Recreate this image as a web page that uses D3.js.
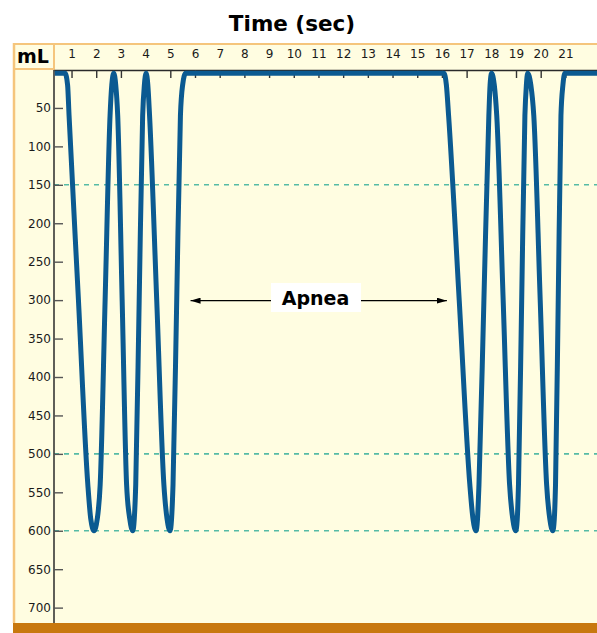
<!DOCTYPE html>
<html>
<head>
<meta charset="utf-8">
<script src="https://cdn.jsdelivr.net/npm/d3@7"></script>
<style>
  html, body { margin: 0; padding: 0; background: #ffffff; }
  svg { display: block; }
</style>
</head>
<body>
<svg id="chart" width="597" height="633"></svg>
<script>
// ---- data ----
const timeTicks = [1,2,3,4,5,6,7,8,9,10,11,12,13,14,15,16,17,18,19,20,21];
const volumeTicks = [50,100,150,200,250,300,350,400,450,500,550,600,650,700];
const referenceLines = [150, 500, 600];

// spirogram trace (time in s, volume in mL)
const timeSec = [
  0.29, 0.74, 0.84, 0.90, 1.28, 1.66, 1.78, 1.91,
  2.04, 2.16, 2.36, 2.56, 2.63, 2.71,
  2.79, 2.87, 3.05, 3.23, 3.36, 3.48,
  3.54, 3.60, 3.74, 3.88, 3.95, 4.02,
  4.09, 4.16, 4.45, 4.74, 4.87, 4.99,
  5.05, 5.11, 5.26, 5.41, 5.50, 5.62,
  16.08, 16.18, 16.27, 16.70, 17.13, 17.26, 17.38,
  17.44, 17.50, 17.70, 17.90, 17.95, 18.01,
  18.12, 18.22, 18.48, 18.74, 18.87, 18.99,
  19.05, 19.10, 19.23, 19.36, 19.42, 19.47,
  19.60, 19.72, 19.98, 20.24, 20.37, 20.49,
  20.55, 20.60, 20.71, 20.82, 20.90, 20.98, 22.28];
const volumeML = [
  5, 5, 20, 60, 300, 540, 585, 600,
  585, 540, 300, 60, 20, 5,
  20, 60, 300, 540, 585, 600,
  585, 540, 300, 60, 20, 5,
  20, 60, 300, 540, 585, 600,
  585, 540, 300, 60, 20, 5,
  5, 20, 60, 300, 540, 585, 600,
  585, 540, 300, 60, 20, 5,
  20, 60, 300, 540, 585, 600,
  585, 540, 300, 60, 20, 5,
  20, 60, 300, 540, 585, 600,
  585, 540, 300, 60, 20, 5, 5];

const apnea = { label: "Apnea", from: 5.82, to: 16.2, level: 300 };

// ---- layout ----
const W = 597, H = 633;
const plotL = 54, plotT = 70, plotR = 597, plotB = 623;
const orange = "#f5c57c", yellowBg = "#fffde1", band = "#c8780e";

const svg = d3.select("#chart");

const x = d3.scaleLinear().domain([0.29, 22.28]).range([plotL, plotR]);
const y = d3.scaleLinear().domain([0, 720]).range([69.5, plotB]);

// panel background
svg.append("rect").attr("x", 13).attr("y", 43).attr("width", W - 13).attr("height", H - 43)
  .attr("fill", yellowBg);
// bottom band
svg.append("rect").attr("x", 13).attr("y", plotB).attr("width", W - 13).attr("height", H - plotB)
  .attr("fill", band);
// borders
svg.append("line").attr("x1", 14).attr("x2", 14).attr("y1", 43).attr("y2", plotB)
  .attr("stroke", orange).attr("stroke-width", 2.5);
svg.append("line").attr("x1", 13).attr("x2", W).attr("y1", 44).attr("y2", 44)
  .attr("stroke", orange).attr("stroke-width", 2);
svg.append("line").attr("x1", plotL).attr("x2", plotL).attr("y1", 43).attr("y2", plotT)
  .attr("stroke", orange).attr("stroke-width", 2);
svg.append("line").attr("x1", 13).attr("x2", plotL).attr("y1", 69).attr("y2", 69)
  .attr("stroke", orange).attr("stroke-width", 2);

// title
svg.append("text").attr("x", 292).attr("y", 31).attr("text-anchor", "middle")
  .attr("font-family", "DejaVu Sans").attr("font-weight", "bold").attr("font-size", 21.5)
  .attr("fill", "#000").text("Time (sec)");
// unit label
svg.append("text").attr("x", 17).attr("y", 63)
  .attr("font-family", "DejaVu Sans").attr("font-weight", "bold").attr("font-size", 19)
  .attr("fill", "#000").text("mL");

// reference dashed lines
svg.append("g").selectAll("line").data(referenceLines).join("line")
  .attr("x1", plotL).attr("x2", plotR)
  .attr("y1", d => y(d)).attr("y2", d => y(d))
  .attr("stroke", "#56bba6").attr("stroke-width", 1.6).attr("stroke-dasharray", "5,5");

// top axis (ticks inward, labels above in header)
const xAxis = d3.axisTop(x).tickValues(timeTicks).tickSizeInner(-8).tickSizeOuter(0).tickPadding(14)
  .tickFormat(d3.format("d"));
const gx = svg.append("g").attr("transform", `translate(0,${plotT})`).call(xAxis);
gx.select(".domain").attr("stroke", "#2a2a2a").attr("stroke-width", 1.5);
gx.selectAll(".tick line").attr("stroke", "#333").attr("stroke-width", 1.4);
gx.selectAll(".tick text").attr("font-family", "DejaVu Sans").attr("font-size", 12)
  .attr("fill", "#1a1a1a").attr("dy", "0.2em");

// left axis (ticks inward)
const yAxis = d3.axisLeft(y).tickValues(volumeTicks).tickSizeInner(-9).tickSizeOuter(0).tickPadding(3);
const gy = svg.append("g").attr("transform", `translate(${plotL},0)`).call(yAxis);
gy.select(".domain").attr("stroke", "#2a2a2a").attr("stroke-width", 1.5)
  .attr("d", `M0,${plotT}V${plotB}`);
gy.selectAll(".tick line").attr("stroke", "#555").attr("stroke-width", 1.4);
gy.selectAll(".tick text").attr("font-family", "DejaVu Sans").attr("font-size", 12)
  .attr("fill", "#1a1a1a");

// clip for waveform
svg.append("clipPath").attr("id", "plotClip").append("rect")
  .attr("x", plotL + 0.8).attr("y", plotT - 4).attr("width", plotR - plotL).attr("height", plotB - plotT + 4);

// waveform
const pts = timeSec.map((t, i) => [t, volumeML[i]]);
const line = d3.line().x(d => x(d[0])).y(d => y(d[1])).curve(d3.curveMonotoneX);
svg.append("path").datum(pts).attr("d", line).attr("clip-path", "url(#plotClip)")
  .attr("fill", "none").attr("stroke", "#0b5a91").attr("stroke-width", 5)
  .attr("stroke-linejoin", "round").attr("stroke-linecap", "butt");

// apnea annotation
const defs = svg.append("defs");
defs.append("marker").attr("id", "arrowHead").attr("viewBox", "0 0 10 6")
  .attr("refX", 10).attr("refY", 3).attr("markerWidth", 10).attr("markerHeight", 6)
  .attr("markerUnits", "userSpaceOnUse").attr("orient", "auto-start-reverse")
  .append("path").attr("d", "M0,0L10,3L0,6Z").attr("fill", "#000");
const ay = y(apnea.level) + 0.5;
svg.append("line").attr("x1", x(apnea.from)).attr("x2", x(apnea.to)).attr("y1", ay).attr("y2", ay)
  .attr("stroke", "#000").attr("stroke-width", 1.2)
  .attr("marker-start", "url(#arrowHead)").attr("marker-end", "url(#arrowHead)");
svg.append("rect").attr("x", 271).attr("y", 283).attr("width", 90).attr("height", 29).attr("fill", "#fff");
svg.append("text").attr("x", 315.5).attr("y", 305).attr("text-anchor", "middle")
  .attr("font-family", "DejaVu Sans").attr("font-weight", "bold").attr("font-size", 19)
  .attr("fill", "#000").text(apnea.label);
</script>
</body>
</html>
